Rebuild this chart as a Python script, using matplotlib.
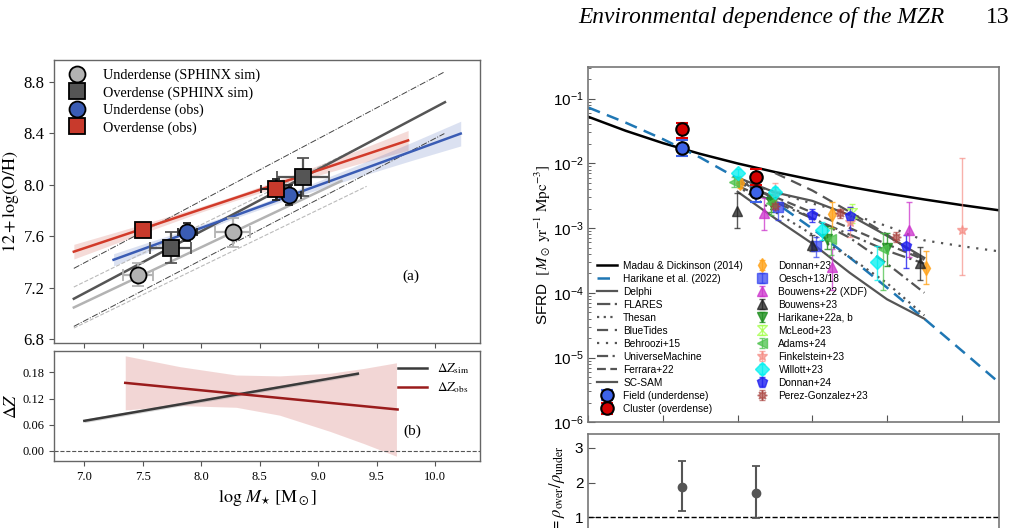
import numpy as np
import matplotlib
matplotlib.use('Agg')
import matplotlib.pyplot as plt
from matplotlib.lines import Line2D

plt.rcParams['font.family'] = 'Liberation Serif'
plt.rcParams['mathtext.fontset'] = 'stix'

# ---------------- left: MZR binned points ----------------
und_sim_m = [7.46, 8.27]
und_sim_z = [7.30, 7.63]
und_sim_xe = [0.13, 0.15]
und_sim_ye = [0.09, 0.11]
ovr_sim_m = [7.74, 8.87]
ovr_sim_z = [7.51, 8.06]
ovr_sim_xe = [0.175, 0.22]
ovr_sim_ye = [0.12, 0.15]
und_obs_m = [7.88, 8.75]
und_obs_z = [7.63, 7.92]
und_obs_xe = [0.08, 0.10]
und_obs_ye = [0.07, 0.08]
ovr_obs_m = [7.50, 8.64]
ovr_obs_z = [7.65, 7.965]
ovr_obs_xe = [0.03, 0.13]
ovr_obs_ye = [0.03, 0.08]

# fitted relations (end points)
fit_ovr_obs_m = [6.91, 9.77]
fit_ovr_obs_z = [7.48, 8.345]
fit_und_obs_m = [7.25, 10.22]
fit_und_obs_z = [7.417, 8.398]
fit_ovr_sim_m = [6.91, 10.085]
fit_ovr_sim_z = [7.114, 8.642]
fit_und_sim_m = [6.91, 9.2]
fit_und_sim_z = [7.046, 8.03]

red_band_m = [6.91, 7.5, 8.0, 8.3, 8.8, 9.3, 9.77]
red_band_lo = [7.423, 7.623, 7.788, 7.880, 8.022, 8.151, 8.268]
red_band_hi = [7.537, 7.693, 7.832, 7.920, 8.082, 8.255, 8.422]
blue_band_m = [7.25, 7.8, 8.3, 8.8, 9.3, 9.8, 10.22]
blue_band_lo = [7.370, 7.569, 7.744, 7.904, 8.049, 8.189, 8.302]
blue_band_hi = [7.464, 7.629, 7.784, 7.954, 8.139, 8.329, 8.494]

# literature reference relations
ref_dd_m = [6.91, 10.08]
ref_dd_hi = [7.35, 8.877]
ref_dd_lo = [6.899, 8.398]
ref_ls_hi_m = [6.91, 9.387]
ref_ls_hi_z = [7.205, 8.307]
ref_ls_lo_m = [6.91, 9.415]
ref_ls_lo_z = [6.886, 7.988]

# delta Z panel
dz_sim_m = [7.0, 9.34]
dz_sim = [0.069, 0.177]
dz_obs_m = [7.35, 9.68]
dz_obs = [0.156, 0.095]
dz_band_m = [7.35, 7.82, 8.30, 8.67, 9.10, 9.39, 9.67]
dz_band_hi = [0.218, 0.193, 0.174, 0.172, 0.178, 0.189, 0.202]
dz_band_lo = [0.094, 0.104, 0.100, 0.082, 0.045, 0.017, -0.012]

# ---------------- right: SFRD ----------------
z_grid = [4, 5, 6, 7, 8, 9, 10, 11, 12, 13, 14, 15]
md14 = [0.0523, 0.0318, 0.0205, 0.01396, 0.00994, 0.00733, 0.00556,
        0.00432, 0.00342, 0.002765, 0.002263, 0.00188]
har22 = [0.0727, 0.0425, 0.0236, 0.01225, 0.00583, 0.00251, 9.78e-4,
         3.52e-4, 1.203e-4, 3.97e-5, 1.284e-5, 4.11e-6]

# log10 SFRD of the simulation curves
sim_z = [8, 9, 10, 11, 12, 13]
delphi = [-2.22, -2.45, -2.58, -2.80, -3.12, -3.46]
flares = [-2.26, -2.55, -2.85, -3.10, -3.35, -3.55]
thesan = [-2.35, -2.75, -3.10, -3.45, -3.85, -4.35]
bluetides_z = [9, 10, 11, 12, 13]
bluetides = [-2.15, -2.42, -2.75, -3.10, -3.50]
behroozi_z = [8, 9, 10, 11, 12, 13, 14, 15]
behroozi = [-2.25, -2.45, -2.62, -2.78, -2.97, -3.19, -3.28, -3.36]
umachine = [-2.35, -2.60, -2.85, -3.15, -3.55, -4.00]
ferrara = [-2.30, -2.52, -2.76, -3.00, -3.25, -3.49]
scsam = [-2.44, -2.85, -3.24, -3.69, -4.10, -4.40]

field_z = [6.5, 8.49]
field = [0.0174, 0.00358]
field_lo = [0.0130, 0.00257]
field_hi = [0.0229, 0.00464]
cluster = [0.0333, 0.00617]
cluster_lo = [0.0243, 0.00464]
cluster_hi = [0.0423, 0.00818]

xi = [1.88, 1.71]
xi_elo = [0.71, 0.74]
xi_ehi = [0.74, 0.76]

# literature points: z, value, lower, upper
donnan23 = ([8.06, 10.54, 13.04], [4.9e-3, 1.64e-3, 2.4e-4], [4.2e-3, 1.0e-3, 1.35e-4], [5.8e-3, 2.5e-3, 4.4e-4])
oesch = ([9.08, 10.09], [2.1e-3, 5.2e-4], [1.35e-3, 3.6e-4], [2.57e-3, 7.4e-4])
bouwens22 = ([8.7, 10.54, 12.59], [1.7e-3, 2.5e-4, 9.3e-4], [9.3e-4, 1.12e-4, 3.6e-4], [2.9e-3, 4.8e-4, 2.5e-3])
bouwens23 = ([7.99, 10.0, 12.88], [1.86e-3, 5.5e-4, 2.9e-4], [1.0e-3, 4.4e-4, 1.6e-4], [3.5e-3, 7.9e-4, 5.1e-4])
harikane22 = ([8.9, 10.4, 12.0], [2.5e-3, 6.8e-4, 4.9e-4], [1.8e-3, 4.7e-4, 2.6e-4], [3.2e-3, 1.07e-3, 8.5e-4])
mcleod = ([11.05], [1.7e-3], [1.2e-3], [2.35e-3])
adams = ([7.9, 8.9, 10.5, 11.9], [5.2e-3, 2.4e-3, 6.8e-4, 4.8e-4], [4.3e-3, 1.6e-3, 3.8e-4, 1.1e-4], [6.2e-3, 3.4e-3, 1.0e-3, 8.3e-4])
finkelstein = ([9.0, 11.0, 14.0], [3.5e-3, 1.23e-3, 9.3e-4], [2.2e-3, 7.4e-4, 1.85e-4], [5.0e-3, 2.1e-3, 1.2e-2])
willott = ([8.0, 9.0, 10.25, 11.74], [7.2e-3, 3.6e-3, 9.3e-4, 2.95e-4], [6.3e-3, 3.0e-3, 6.6e-4, 1.6e-4], [8.2e-3, 4.3e-3, 1.26e-3, 5.2e-4])
donnan24 = ([10.0, 11.0, 12.5], [1.57e-3, 1.55e-3, 5.2e-4], [1.26e-3, 9.3e-4, 2.4e-4], [2.0e-3, 2.1e-3, 7.9e-4])
perez = ([9.0, 10.74, 12.23], [2.2e-3, 1.7e-3, 7.2e-4], [1.9e-3, 1.45e-3, 6.0e-4], [2.6e-3, 2.0e-3, 8.8e-4])

W, H = 1017, 528
fig = plt.figure(figsize=(W / 100, H / 100), dpi=100)


def box(x0, y0, x1, y1):
    return [x0 / W, 1 - y1 / H, (x1 - x0) / W, (y1 - y0) / H]


ax1 = fig.add_axes(box(54.3, 60, 480, 343))
ax2 = fig.add_axes(box(54.3, 351, 480, 461))
ax3 = fig.add_axes(box(588.3, 67, 999, 422.3))
ax4 = fig.add_axes(box(588.3, 434, 999, 552))

C_LG, C_DG = '#b3b3b3', '#555555'
C_BL, C_RD = '#3a5cb4', '#c83a2c'

# ---- panel (a)
ax1.plot(ref_dd_m, ref_dd_hi, color='#444444', ls='-.', lw=0.7)
ax1.plot(ref_dd_m, ref_dd_lo, color='#444444', ls='-.', lw=0.7)
ax1.plot(ref_ls_hi_m, ref_ls_hi_z, color='#bbbbbb', ls='--', lw=0.8)
ax1.plot(ref_ls_lo_m, ref_ls_lo_z, color='#bbbbbb', ls='--', lw=0.8)
ax1.fill_between(red_band_m, red_band_lo, red_band_hi, color=C_RD, alpha=0.18, lw=0)
ax1.fill_between(blue_band_m, blue_band_lo, blue_band_hi, color=C_BL, alpha=0.18, lw=0)
ax1.plot(fit_und_sim_m, fit_und_sim_z, color=C_LG, lw=1.8)
ax1.plot(fit_ovr_sim_m, fit_ovr_sim_z, color=C_DG, lw=1.8)
ax1.plot(fit_ovr_obs_m, fit_ovr_obs_z, color='#d23b2a', lw=1.8)
ax1.plot(fit_und_obs_m, fit_und_obs_z, color=C_BL, lw=1.8)

ax1.errorbar(und_sim_m, und_sim_z, xerr=und_sim_xe, yerr=und_sim_ye, fmt='o', ms=11.5,
             mfc=C_LG, mec='k', mew=1.3, ecolor=C_LG, elinewidth=1.6, capsize=4, capthick=1.6)
ax1.errorbar(ovr_sim_m, ovr_sim_z, xerr=ovr_sim_xe, yerr=ovr_sim_ye, fmt='s', ms=11.5,
             mfc=C_DG, mec='k', mew=1.3, ecolor=C_DG, elinewidth=1.6, capsize=4, capthick=1.6)
ax1.errorbar(und_obs_m, und_obs_z, xerr=und_obs_xe, yerr=und_obs_ye, fmt='o', ms=11.5,
             mfc=C_BL, mec='k', mew=1.3, ecolor='#222222', elinewidth=1.4, capsize=3, capthick=1.4)
ax1.errorbar(ovr_obs_m, ovr_obs_z, xerr=ovr_obs_xe, yerr=ovr_obs_ye, fmt='s', ms=11.5,
             mfc=C_RD, mec='k', mew=1.3, ecolor='#222222', elinewidth=1.4, capsize=3, capthick=1.4)

hand = [Line2D([], [], ls='none', marker='o', ms=11.5, mfc=C_LG, mec='k', mew=1.3),
        Line2D([], [], ls='none', marker='s', ms=11.5, mfc=C_DG, mec='k', mew=1.3),
        Line2D([], [], ls='none', marker='o', ms=11.5, mfc=C_BL, mec='k', mew=1.3),
        Line2D([], [], ls='none', marker='s', ms=11.5, mfc=C_RD, mec='k', mew=1.3)]
ax1.legend(hand, ['Underdense (SPHINX sim)', 'Overdense (SPHINX sim)',
                  'Underdense (obs)', 'Overdense (obs)'],
           loc='upper left', frameon=False, fontsize=10.3, borderaxespad=0.2,
           handletextpad=0.8, labelspacing=0.28)
ax1.text(0.838, 0.237, '(a)', transform=ax1.transAxes, fontsize=11, ha='center', va='center')
ax1.set_xlim(6.743, 10.385)
ax1.set_ylim(6.77, 8.97)
ax1.set_yticks([6.8, 7.2, 7.6, 8.0, 8.4, 8.8])
ax1.set_xticks(np.arange(7.0, 10.01, 0.5))
ax1.tick_params(labelbottom=False, labelsize=12, color='#555555', length=3.5)
ax1.set_ylabel(r'$12 + \log({\rm O/H})$', fontsize=13, labelpad=2)

# ---- panel (b)
ax2.axhline(0, color='#555555', ls='--', lw=0.8)
ax2.fill_between(dz_band_m, dz_band_lo, dz_band_hi, color='#d9827f', alpha=0.32, lw=0)
ax2.fill_between(dz_sim_m, [v - 0.004 for v in dz_sim], [v + 0.004 for v in dz_sim],
                 color='#999999', alpha=0.4, lw=0)
ax2.plot(dz_sim_m, dz_sim, color='#3a3a3a', lw=1.8, label=r'$\Delta Z_{\rm sim}$')
ax2.plot(dz_obs_m, dz_obs, color='#9a1c1c', lw=1.8, label=r'$\Delta Z_{\rm obs}$')
ax2.legend(loc='upper right', frameon=False, fontsize=9.5, handlelength=2.2,
           borderaxespad=0.4, labelspacing=0.3)
ax2.text(0.84, 0.266, '(b)', transform=ax2.transAxes, fontsize=11, ha='center', va='center')
ax2.set_xlim(6.743, 10.385)
ax2.set_ylim(-0.023, 0.229)
ax2.set_yticks([0.0, 0.06, 0.12, 0.18])
ax2.set_yticklabels(['0.00', '0.06', '0.12', '0.18'])
ax2.set_xticks(np.arange(7.0, 10.01, 0.5))
ax2.tick_params(labelsize=9, color='#555555', length=3.5)
ax2.set_ylabel(r'$\Delta Z$', fontsize=13, labelpad=2)
ax2.set_xlabel(r'$\log\, M_{\star}\ [{\rm M}_\odot]$', fontsize=13)

for ax in (ax1, ax2):
    for s in ax.spines.values():
        s.set_color('#666666')
        s.set_linewidth(1.0)

# ---- SFRD panel
SANS = 'Liberation Sans'
ax3.plot(z_grid, md14, color='k', lw=1.8, label='Madau & Dickinson (2014)')
ax3.plot(z_grid, har22, color='#1f77b4', lw=1.8, ls=(0, (5, 3)), label='Harikane et al. (2022)')
gl = dict(color='#555555', lw=1.6)
ax3.plot(sim_z, [10 ** v for v in delphi], ls='-', label='Delphi', **gl)
ax3.plot(sim_z, [10 ** v for v in flares], ls=(0, (6, 2, 1, 2)), label='FLARES', **gl)
ax3.plot(sim_z, [10 ** v for v in thesan], ls=(0, (1, 2)), label='Thesan', **gl)
ax3.plot(bluetides_z, [10 ** v for v in bluetides], ls=(0, (5, 3)), label='BlueTides', **gl)
ax3.plot(behroozi_z, [10 ** v for v in behroozi], ls=(0, (1, 3)), label='Behroozi+15', **gl)
ax3.plot(sim_z, [10 ** v for v in umachine], ls=(0, (5, 2, 1, 2)), label='UniverseMachine', **gl)
ax3.plot(sim_z, [10 ** v for v in ferrara], ls=(0, (4, 2)), label='Ferrara+22', **gl)
ax3.plot(sim_z, [10 ** v for v in scsam], ls='-', label='SC-SAM', **gl)

ax3.errorbar(field_z, field, yerr=[np.subtract(field, field_lo), np.subtract(field_hi, field)],
             fmt='o', ms=9, mfc='#3d63e8', mec='k', mew=1.5, ecolor='#3d63e8', elinewidth=1.5,
             capsize=4, capthick=1.5, zorder=6, label='Field (underdense)')
ax3.errorbar(field_z, cluster, yerr=[np.subtract(cluster, cluster_lo), np.subtract(cluster_hi, cluster)],
             fmt='o', ms=9, mfc='#d40000', mec='k', mew=1.5, ecolor='#e00000', elinewidth=1.5,
             capsize=4, capthick=1.5, zorder=6, label='Cluster (overdense)')

hourglass = [(-1, 1), (1, 1), (-1, -1), (1, -1), (-1, 1)]
lit = [(donnan23, 'Donnan+23', '#ffa31a', 'd', 0.8),
       (oesch, 'Oesch+13/18', '#2f3ff0', 's', 0.7),
       (bouwens22, 'Bouwens+22 (XDF)', '#cc33cc', '^', 0.75),
       (bouwens23, 'Bouwens+23', '#222222', '^', 0.75),
       (harikane22, 'Harikane+22a, b', '#1f8f1f', 'v', 0.8),
       (mcleod, 'McLeod+23', '#a6ff4d', hourglass, 0.8),
       (adams, 'Adams+24', '#4cc24c', '<', 0.75),
       (finkelstein, 'Finkelstein+23', '#f5877f', '*', 0.65),
       (willott, 'Willott+23', '#00f0f0', 'D', 0.75),
       (donnan24, 'Donnan+24', '#2121f0', 'p', 0.8),
       (perez, 'Perez-Gonzalez+23', '#a8403c', (8, 1, 0), 0.65)]
h3, l3 = ax3.get_legend_handles_labels()
for (zz, vv, lo, hi), lab, col, mk, al in lit:
    mfc = 'none' if mk is hourglass else col
    eb = ax3.errorbar(zz, vv, yerr=[np.subtract(vv, lo), np.subtract(hi, vv)], fmt='',
                      ls='none', marker=mk, ms=7, color=col, mfc=mfc, ecolor=col,
                      elinewidth=1.0, capsize=2.5, alpha=al, zorder=5)
    h3.append(eb)
    l3.append(lab)
ax3.legend(h3, l3, ncol=2, loc='lower left', bbox_to_anchor=(0.011, 0.012),
           borderaxespad=0, frameon=False, prop={'family': SANS, 'size': 7.3},
           labelspacing=0.3, handlelength=2.0, handletextpad=0.6, columnspacing=0.9)

ax3.set_yscale('log')
ax3.set_xlim(4, 15)
ax3.set_ylim(1e-6, 0.307)
ax3.set_xticks([4, 6, 8, 10, 12, 14])
ax3.tick_params(labelbottom=False, direction='in', which='both', color='#555555')
ax3.tick_params(which='major', length=5, labelsize=11, labelfontfamily=SANS)
ax3.tick_params(which='minor', length=2.5)
ax3.set_ylabel(r'SFRD  $[M_\odot\ {\rm yr}^{-1}\ {\rm Mpc}^{-3}]$', fontsize=11, family=SANS, labelpad=0)

# ---- xi panel
ax4.axhline(1, color='k', ls='--', lw=1.0)
ax4.errorbar(field_z, xi, yerr=[xi_elo, xi_ehi], fmt='o', ms=6, color='#555555',
             ecolor='#555555', elinewidth=1.5, capsize=3, capthick=1.3)
ax4.set_xlim(4, 15)
ax4.set_ylim(0, 3.4)
ax4.set_yticks([1, 2, 3])
ax4.set_xticks([4, 6, 8, 10, 12, 14])
ax4.tick_params(direction='in', color='#555555', length=5, labelsize=11,
                labelfontfamily=SANS, labelbottom=False)
ax4.set_ylabel(r'$\xi = \rho_{\rm over}/\rho_{\rm under}$', fontsize=12, labelpad=6)

for ax in (ax3, ax4):
    for s in ax.spines.values():
        s.set_color('#777777')
        s.set_linewidth(1.2)

fig.text(578 / W, 1 - 23 / H, 'Environmental dependence of the MZR', style='italic',
         fontsize=16.8, va='baseline', ha='left')
fig.text(1010 / W, 1 - 23 / H, '13', fontsize=17, va='baseline', ha='right')

fig.savefig('out.png', dpi=100)
